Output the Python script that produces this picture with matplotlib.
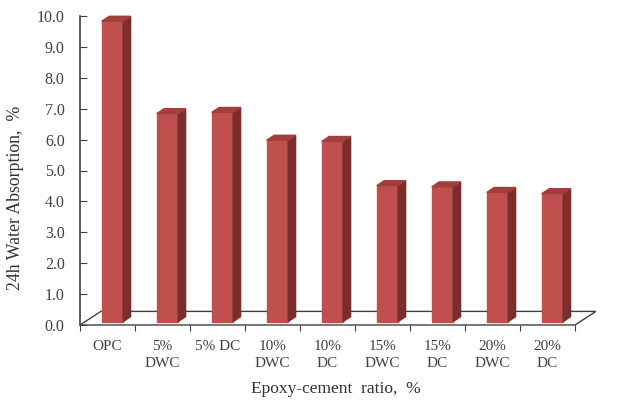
import numpy as np
import matplotlib
matplotlib.use("Agg")
import matplotlib.pyplot as plt

# data
labels = ["OPC", "5%\nDWC", "5% DC", "10%\nDWC", "10%\nDC",
          "15%\nDWC", "15%\nDC", "20%\nDWC", "20%\nDC"]
absorption = [9.72, 6.73, 6.77, 5.87, 5.83, 4.40, 4.36, 4.18, 4.14]
yticks = np.arange(0, 10.01, 1.0)

plt.rcParams['font.family'] = ['Liberation Serif', 'DejaVu Serif']

fig = plt.figure(figsize=(6.24, 4.03), dpi=100)
ax = fig.add_axes([80 / 624, 78 / 403, 495 / 624, 309 / 403])

# pseudo 3d geometry (in data units)
floor_dx, floor_dy = 0.38, 0.44
bar_w = 0.39
off_dx, off_dy = 0.09, 0.11     # front face offset into the floor
depth_dx, depth_dy = 0.135, 0.16

front_c = "#C0504D"
top_c = "#A23E3B"
side_c = "#7A2D2B"
edge_c = "#404040"

n = len(absorption)
# floor
fx = [0, n, n + floor_dx, floor_dx]
fy = [0, 0, floor_dy, floor_dy]
ax.fill(fx, fy, facecolor="white", edgecolor=edge_c, linewidth=1.0,
        clip_on=False, zorder=1)

for i, v in enumerate(absorption):
    x0 = i + 0.5 + off_dx - bar_w / 2
    x1 = x0 + bar_w
    y0 = off_dy
    y1 = off_dy + v
    ax.fill([x0, x1, x1, x0], [y0, y0, y1, y1], color=front_c, zorder=3,
            clip_on=False)
    ax.fill([x1, x1 + depth_dx, x1 + depth_dx, x1],
            [y0, y0 + depth_dy, y1 + depth_dy, y1], color=side_c, zorder=3,
            clip_on=False)
    ax.fill([x0, x1, x1 + depth_dx, x0 + depth_dx],
            [y1, y1, y1 + depth_dy, y1 + depth_dy], color=top_c, zorder=3,
            clip_on=False)

ax.set_xlim(0, n)
ax.set_ylim(0, 10)

for s in ["top", "right", "bottom"]:
    ax.spines[s].set_visible(False)
ax.spines["left"].set_color(edge_c)
ax.spines["left"].set_linewidth(1.2)

ax.set_yticks(yticks)
ax.set_yticklabels(["%.1f" % t for t in yticks])
ax.tick_params(axis="y", direction="in", length=5, color=edge_c,
               labelsize=11.5, labelcolor="#404040", pad=11)

ax.set_xticks(np.arange(0, n + 1))
ax.set_xticklabels([])
ax.set_xticks(np.arange(n) + 0.5, minor=True)
ax.set_xticklabels(labels, minor=True, linespacing=1.4)
ax.tick_params(axis="x", which="major", direction="out", length=4,
               color=edge_c)
ax.tick_params(axis="x", which="minor", length=0, labelsize=11,
               labelcolor="#404040", pad=11)

ax.set_xlabel("Epoxy-cement  ratio,  %", fontsize=12.5, color="#333333")
ax.xaxis.set_label_coords(0.517, -0.18)
ax.set_ylabel("24h Water Absorption,  %", fontsize=12.8, color="#333333")
ax.yaxis.set_label_coords(-0.113, 0.41)

fig.savefig("out.png", dpi=100, facecolor="white")
